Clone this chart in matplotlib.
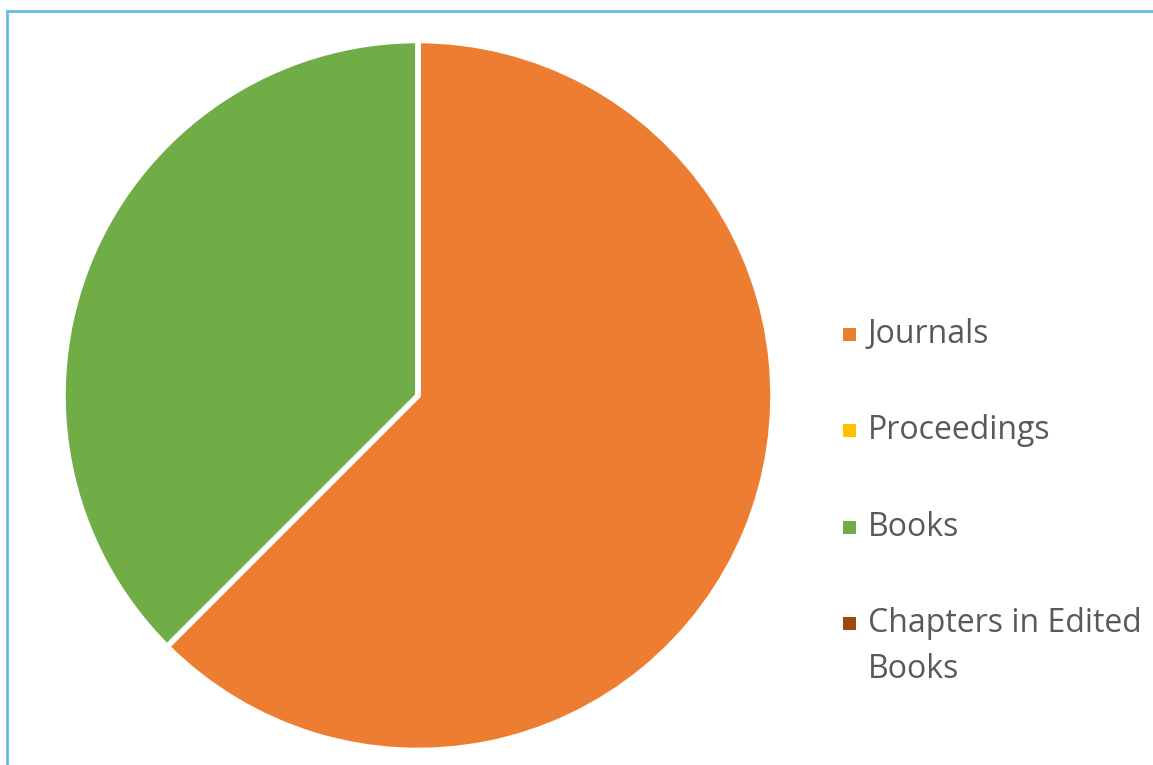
import matplotlib
matplotlib.use("Agg")
import matplotlib.pyplot as plt
from matplotlib.patches import Rectangle

categories = ["Journals", "Proceedings", "Books", "Chapters in Edited\nBooks"]
values = [5, 0, 3, 0]
colors = ["#ED7D31", "#FFC000", "#70AD47", "#9E480E"]

W, H = 1153, 765
fig = plt.figure(figsize=(W / 100, H / 100), dpi=100)
fig.patch.set_facecolor("white")

# frame
fig.add_artist(Rectangle((7 / W, -0.05), 1.2, 1 - 11 / H + 0.05,
                         transform=fig.transFigure, fill=False,
                         edgecolor="#5FB7E8", linewidth=1.9))

cx, cy, r = 418, 395.5, 355
ax = fig.add_axes([(cx - r) / W, (H - cy - r) / H, 2 * r / W, 2 * r / H])
ax.pie(values, colors=colors, startangle=90, counterclock=False, radius=1,
       wedgeprops=dict(edgecolor="white", linewidth=4))
ax.set_xlim(-1, 1)
ax.set_ylim(-1, 1)
ax.set_aspect("equal")
ax.axis("off")

# legend (manual layout, Office-style)
base0, pitch, line_pitch = 343, 96.3, 46
msize = 13
for i, (lab, col) in enumerate(zip(categories, colors)):
    b = base0 + i * pitch
    mc = b - 8.5
    fig.add_artist(Rectangle(((849 - msize / 2) / W, 1 - (mc + msize / 2) / H),
                             msize / W, msize / H, transform=fig.transFigure,
                             facecolor=col, edgecolor="none"))
    for j, line in enumerate(lab.split("\n")):
        fig.text(868 / W, 1 - (b + j * line_pitch) / H, line, ha="left",
                 va="baseline", family="Open Sans", fontsize=23,
                 color="#595959")

fig.savefig("out.png", dpi=100, facecolor="white")
